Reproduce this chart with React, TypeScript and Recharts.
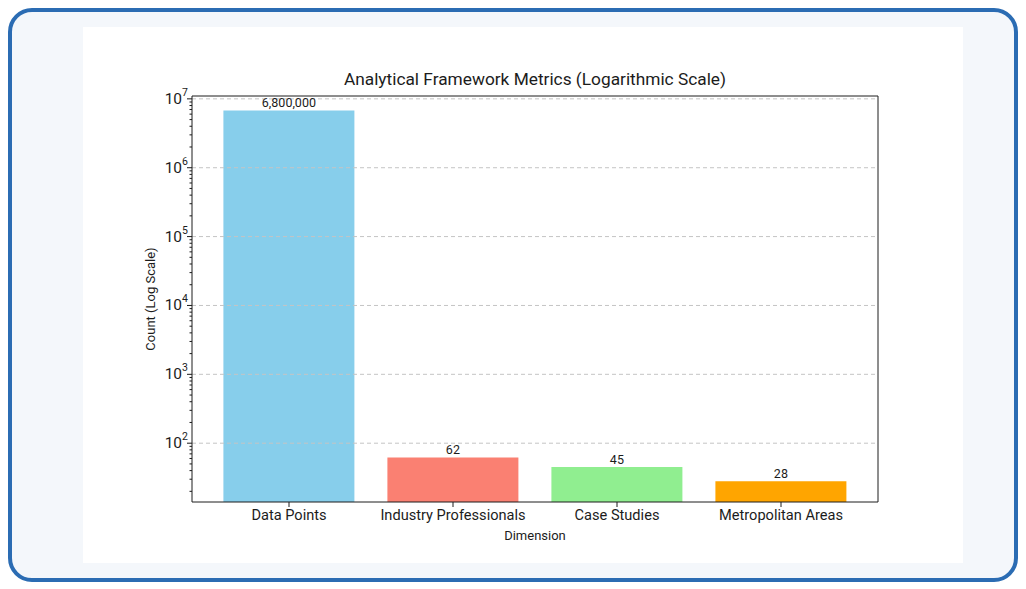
import React from 'react';
import {
  BarChart,
  Bar,
  XAxis,
  YAxis,
  Cell,
  LabelList,
  Label,
  ReferenceLine,
} from 'recharts';

const CATEGORIES = ['Data Points', 'Industry Professionals', 'Case Studies', 'Metropolitan Areas'];
const COUNTS = [6800000, 62, 45, 28];
const COLORS = ['#87CEEB', '#FA8072', '#90EE90', '#FFA500'];
const MAJOR_TICKS = [100, 1000, 10000, 100000, 1000000, 10000000];
const MINOR_TICKS = [
  20, 30, 40, 50, 60, 70, 80, 90,
  200, 300, 400, 500, 600, 700, 800, 900,
  2000, 3000, 4000, 5000, 6000, 7000, 8000, 9000,
  20000, 30000, 40000, 50000, 60000, 70000, 80000, 90000,
  200000, 300000, 400000, 500000, 600000, 700000, 800000, 900000,
  2000000, 3000000, 4000000, 5000000, 6000000, 7000000, 8000000, 9000000,
];
const Y_DOMAIN = [14, 11000000];

const FONT = 'Roboto, "Open Sans", sans-serif';
const INK = '#1c1c1c';

const data = CATEGORIES.map((name, i) => ({ name, count: COUNTS[i] }));
const allTicks = [...MAJOR_TICKS, ...MINOR_TICKS].sort((a, b) => a - b);

// log ticks: long line + 10^n label on decades, short line on the rest
const LogTick = (props: any) => {
  const { x, y, payload } = props;
  const v = payload.value;
  const lg = Math.log10(v);
  const exp = Math.round(lg);
  const major = Math.abs(lg - exp) < 1e-9;
  return (
    <g>
      <line x1={x - (major ? 5 : 2.5)} x2={x} y1={y} y2={y} stroke={INK} strokeWidth={1} />
      {major && (
        <text x={x - 4} y={y + 5} textAnchor="end" fontSize={15.5} fill={INK} fontFamily={FONT}>
          10<tspan dy={-8} fontSize={10.5}>{exp}</tspan>
        </text>
      )}
    </g>
  );
};

export default function App() {
  return (
    <div style={{ position: 'absolute', left: 0, top: 0, width: 1026, height: 589, background: '#fff' }}>
      <div
        style={{
          position: 'absolute',
          left: 8,
          top: 8,
          width: 1002,
          height: 566,
          border: '4px solid #2B6CB3',
          borderRadius: 24,
          background: '#F4F7FB',
        }}
      />
      <div style={{ position: 'absolute', left: 83, top: 27, width: 880, height: 536, background: '#fff' }}>
        <div
          style={{
            position: 'absolute',
            left: 109,
            width: 686,
            top: 42,
            textAlign: 'center',
            fontFamily: FONT,
            fontSize: 17.3,
            color: INK,
          }}
        >
          Analytical Framework Metrics (Logarithmic Scale)
        </div>
        <BarChart
          width={880}
          height={536}
          data={data}
          margin={{ top: 68, right: 84, bottom: 21, left: 49 }}
          barCategoryGap="10%"
        >
          <XAxis
            dataKey="name"
            padding={{ left: 15, right: 15 }}
            height={40}
            tickSize={5}
            tickMargin={3}
            stroke={INK}
            tick={{ fontSize: 14.6, fill: INK, fontFamily: FONT }}
          >
            <Label value="Dimension" position="insideBottom" offset={2} fontSize={13} fill={INK} fontFamily={FONT} />
          </XAxis>
          <XAxis xAxisId="top" dataKey="name" orientation="top" height={1} tick={false} tickLine={false} stroke={INK} />
          <YAxis
            type="number"
            scale="log"
            domain={Y_DOMAIN}
            allowDataOverflow
            ticks={allTicks}
            interval={0}
            width={60}
            tickSize={0}
            tickMargin={0}
            stroke={INK}
            tick={<LogTick />}
          >
            <Label
              value="Count (Log Scale)"
              angle={-90}
              position="insideLeft"
              offset={18}
              fontSize={13}
              fill={INK}
              fontFamily={FONT}
              style={{ textAnchor: 'middle' }}
            />
          </YAxis>
          <YAxis yAxisId="right" orientation="right" width={1} tick={false} tickLine={false} stroke={INK} />
          {MAJOR_TICKS.map((v) => (
            <ReferenceLine key={v} y={v} stroke="#c4c4c4" strokeDasharray="4 3" />
          ))}
          <Bar dataKey="count" isAnimationActive={false}>
            {data.map((d, i) => (
              <Cell key={d.name} fill={COLORS[i]} />
            ))}
            <LabelList
              dataKey="count"
              position="top"
              offset={3}
              fontSize={12.5}
              fill={INK}
              fontFamily={FONT}
              formatter={(v: any) => Number(v).toLocaleString('en-US')}
            />
          </Bar>
        </BarChart>
      </div>
    </div>
  );
}
